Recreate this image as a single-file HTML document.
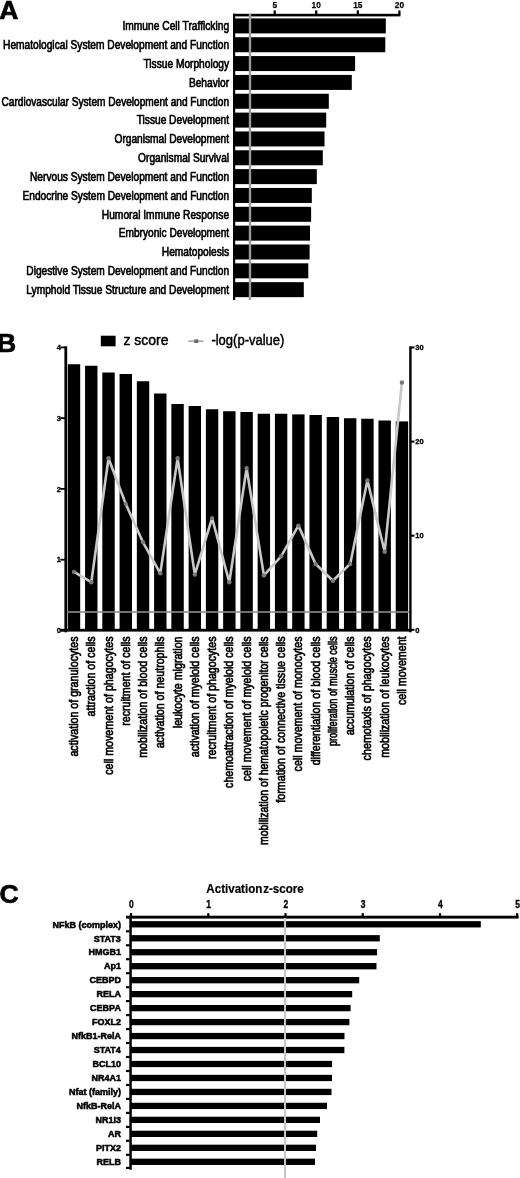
<!DOCTYPE html>
<html lang="en"><head><meta charset="utf-8"><title>Figure</title>
<style>html,body{margin:0;padding:0;background:#fff}body{width:520px;height:1178px;overflow:hidden}svg{display:block}text{font-family:'Liberation Sans', Arial, Helvetica, sans-serif;fill:#000}</style>
</head><body>
<svg width="520" height="1178" viewBox="0 0 520 1178">
<rect x="0" y="0" width="520" height="1178" fill="#fff"/>
<g id="panelA">
<text x="-0.7" y="18.7" font-size="26.5" font-weight="bold" stroke="#000" stroke-width="0.7">A</text>
<rect x="234.5" y="18.40" width="151.3" height="15.0" fill="#000"/>
<text x="229.1" y="30.20" font-size="12.0" text-anchor="end" textLength="106.6" lengthAdjust="spacingAndGlyphs" stroke="#000" stroke-width="0.65">Immune Cell Trafficking</text>
<rect x="234.5" y="37.24" width="150.8" height="15.0" fill="#000"/>
<text x="229.1" y="49.04" font-size="12.0" text-anchor="end" textLength="226.0" lengthAdjust="spacingAndGlyphs" stroke="#000" stroke-width="0.65">Hematological System Development and Function</text>
<rect x="234.5" y="56.08" width="120.6" height="15.0" fill="#000"/>
<text x="229.1" y="67.88" font-size="12.0" text-anchor="end" textLength="85.6" lengthAdjust="spacingAndGlyphs" stroke="#000" stroke-width="0.65">Tissue Morphology</text>
<rect x="234.5" y="74.92" width="117.3" height="15.0" fill="#000"/>
<text x="229.1" y="86.72" font-size="12.0" text-anchor="end" textLength="40.2" lengthAdjust="spacingAndGlyphs" stroke="#000" stroke-width="0.65">Behavior</text>
<rect x="234.5" y="93.76" width="94.3" height="15.0" fill="#000"/>
<text x="229.1" y="105.56" font-size="12.0" text-anchor="end" textLength="227.6" lengthAdjust="spacingAndGlyphs" stroke="#000" stroke-width="0.65">Cardiovascular System Development and Function</text>
<rect x="234.5" y="112.60" width="91.7" height="15.0" fill="#000"/>
<text x="229.1" y="124.40" font-size="12.0" text-anchor="end" textLength="92.4" lengthAdjust="spacingAndGlyphs" stroke="#000" stroke-width="0.65">Tissue Development</text>
<rect x="234.5" y="131.44" width="90.0" height="15.0" fill="#000"/>
<text x="229.1" y="143.24" font-size="12.0" text-anchor="end" textLength="114.6" lengthAdjust="spacingAndGlyphs" stroke="#000" stroke-width="0.65">Organismal Development</text>
<rect x="234.5" y="150.28" width="88.3" height="15.0" fill="#000"/>
<text x="229.1" y="162.08" font-size="12.0" text-anchor="end" textLength="91.0" lengthAdjust="spacingAndGlyphs" stroke="#000" stroke-width="0.65">Organismal Survival</text>
<rect x="234.5" y="169.12" width="82.3" height="15.0" fill="#000"/>
<text x="229.1" y="180.92" font-size="12.0" text-anchor="end" textLength="199.1" lengthAdjust="spacingAndGlyphs" stroke="#000" stroke-width="0.65">Nervous System Development and Function</text>
<rect x="234.5" y="187.96" width="77.3" height="15.0" fill="#000"/>
<text x="229.1" y="199.76" font-size="12.0" text-anchor="end" textLength="206.6" lengthAdjust="spacingAndGlyphs" stroke="#000" stroke-width="0.65">Endocrine System Development and Function</text>
<rect x="234.5" y="206.80" width="76.6" height="15.0" fill="#000"/>
<text x="229.1" y="218.60" font-size="12.0" text-anchor="end" textLength="127.3" lengthAdjust="spacingAndGlyphs" stroke="#000" stroke-width="0.65">Humoral Immune Response</text>
<rect x="234.5" y="225.64" width="75.5" height="15.0" fill="#000"/>
<text x="229.1" y="237.44" font-size="12.0" text-anchor="end" textLength="110.3" lengthAdjust="spacingAndGlyphs" stroke="#000" stroke-width="0.65">Embryonic Development</text>
<rect x="234.5" y="244.48" width="75.1" height="15.0" fill="#000"/>
<text x="229.1" y="256.28" font-size="12.0" text-anchor="end" textLength="67.3" lengthAdjust="spacingAndGlyphs" stroke="#000" stroke-width="0.65">Hematopoiesis</text>
<rect x="234.5" y="263.32" width="73.8" height="15.0" fill="#000"/>
<text x="229.1" y="275.12" font-size="12.0" text-anchor="end" textLength="202.8" lengthAdjust="spacingAndGlyphs" stroke="#000" stroke-width="0.65">Digestive System Development and Function</text>
<rect x="234.5" y="282.16" width="69.3" height="15.0" fill="#000"/>
<text x="229.1" y="293.96" font-size="12.0" text-anchor="end" textLength="202.8" lengthAdjust="spacingAndGlyphs" stroke="#000" stroke-width="0.65">Lymphoid Tissue Structure and Development</text>
<rect x="233" y="13.8" width="2.2" height="286.2" fill="#000"/>
<rect x="233" y="13.8" width="167.5" height="2.6" fill="#000"/>
<rect x="273.6" y="10.4" width="2.2" height="4" fill="#000"/>
<text x="274.7" y="8.3" font-size="9" font-weight="bold" text-anchor="middle" textLength="4.6" lengthAdjust="spacingAndGlyphs" stroke="#000" stroke-width="0.25">5</text>
<rect x="315.1" y="10.4" width="2.2" height="4" fill="#000"/>
<text x="316.2" y="8.3" font-size="9" font-weight="bold" text-anchor="middle" textLength="9.2" lengthAdjust="spacingAndGlyphs" stroke="#000" stroke-width="0.25">10</text>
<rect x="356.7" y="10.4" width="2.2" height="4" fill="#000"/>
<text x="357.8" y="8.3" font-size="9" font-weight="bold" text-anchor="middle" textLength="9.2" lengthAdjust="spacingAndGlyphs" stroke="#000" stroke-width="0.25">15</text>
<rect x="398.3" y="10.4" width="2.2" height="4" fill="#000"/>
<text x="399.4" y="8.3" font-size="9" font-weight="bold" text-anchor="middle" textLength="9.2" lengthAdjust="spacingAndGlyphs" stroke="#000" stroke-width="0.25">20</text>
<rect x="248.8" y="13.8" width="2.4" height="286.2" fill="#9a9a9a"/>
</g>
<g id="panelB">
<text x="-3" y="352.3" font-size="26.5" font-weight="bold" stroke="#000" stroke-width="0.7">B</text>
<rect x="100.8" y="335.7" width="14.8" height="10.6" fill="#000"/>
<text x="123.5" y="344.8" font-size="14" textLength="45" lengthAdjust="spacingAndGlyphs" stroke="#000" stroke-width="0.45">z score</text>
<line x1="188.2" y1="341.2" x2="203.6" y2="341.2" stroke="#b4b4b4" stroke-width="2"/>
<rect x="194.4" y="339.4" width="3.8" height="3.6" fill="#666"/>
<text x="211.4" y="344.8" font-size="14" textLength="73" lengthAdjust="spacingAndGlyphs" stroke="#000" stroke-width="0.45">-log(p-value)</text>
<rect x="67.80" y="364.25" width="12.4" height="266.25" fill="#000"/>
<rect x="85.06" y="365.75" width="12.4" height="264.75" fill="#000"/>
<rect x="102.32" y="372.50" width="12.4" height="258.00" fill="#000"/>
<rect x="119.58" y="374.00" width="12.4" height="256.50" fill="#000"/>
<rect x="136.84" y="381.25" width="12.4" height="249.25" fill="#000"/>
<rect x="154.10" y="393.50" width="12.4" height="237.00" fill="#000"/>
<rect x="171.36" y="404.00" width="12.4" height="226.50" fill="#000"/>
<rect x="188.62" y="406.00" width="12.4" height="224.50" fill="#000"/>
<rect x="205.88" y="409.25" width="12.4" height="221.25" fill="#000"/>
<rect x="223.14" y="411.25" width="12.4" height="219.25" fill="#000"/>
<rect x="240.40" y="412.00" width="12.4" height="218.50" fill="#000"/>
<rect x="257.66" y="413.75" width="12.4" height="216.75" fill="#000"/>
<rect x="274.92" y="413.75" width="12.4" height="216.75" fill="#000"/>
<rect x="292.18" y="414.40" width="12.4" height="216.10" fill="#000"/>
<rect x="309.44" y="415.00" width="12.4" height="215.50" fill="#000"/>
<rect x="326.70" y="417.00" width="12.4" height="213.50" fill="#000"/>
<rect x="343.96" y="418.25" width="12.4" height="212.25" fill="#000"/>
<rect x="361.22" y="418.75" width="12.4" height="211.75" fill="#000"/>
<rect x="378.48" y="420.50" width="12.4" height="210.00" fill="#000"/>
<rect x="395.74" y="421.40" width="12.4" height="209.10" fill="#000"/>
<rect x="66" y="611.2" width="344" height="1.6" fill="#8c8c8c"/>
<polyline points="74.0,571.9 91.3,582.2 108.5,458.3 125.8,504.1 143.0,542.3 160.3,573.3 177.6,458.3 194.8,574.6 212.1,518.1 229.3,582.2 246.6,468.3 263.9,575.4 281.1,556.3 298.4,525.6 315.6,563.9 332.9,580.8 350.2,563.9 367.4,480.4 384.7,551.7 401.9,382.5" fill="none" stroke="#c8c8c8" stroke-width="2.6" stroke-linejoin="round"/>
<circle cx="74.0" cy="571.9" r="2.2" fill="#7a7a7a"/>
<circle cx="91.3" cy="582.2" r="2.2" fill="#7a7a7a"/>
<circle cx="108.5" cy="458.3" r="2.2" fill="#7a7a7a"/>
<circle cx="125.8" cy="504.1" r="2.2" fill="#7a7a7a"/>
<circle cx="143.0" cy="542.3" r="2.2" fill="#7a7a7a"/>
<circle cx="160.3" cy="573.3" r="2.2" fill="#7a7a7a"/>
<circle cx="177.6" cy="458.3" r="2.2" fill="#7a7a7a"/>
<circle cx="194.8" cy="574.6" r="2.2" fill="#7a7a7a"/>
<circle cx="212.1" cy="518.1" r="2.2" fill="#7a7a7a"/>
<circle cx="229.3" cy="582.2" r="2.2" fill="#7a7a7a"/>
<circle cx="246.6" cy="468.3" r="2.2" fill="#7a7a7a"/>
<circle cx="263.9" cy="575.4" r="2.2" fill="#7a7a7a"/>
<circle cx="281.1" cy="556.3" r="2.2" fill="#7a7a7a"/>
<circle cx="298.4" cy="525.6" r="2.2" fill="#7a7a7a"/>
<circle cx="315.6" cy="563.9" r="2.2" fill="#7a7a7a"/>
<circle cx="332.9" cy="580.8" r="2.2" fill="#7a7a7a"/>
<circle cx="350.2" cy="563.9" r="2.2" fill="#7a7a7a"/>
<circle cx="367.4" cy="480.4" r="2.2" fill="#7a7a7a"/>
<circle cx="384.7" cy="551.7" r="2.2" fill="#7a7a7a"/>
<circle cx="401.9" cy="382.5" r="2.2" fill="#7a7a7a"/>
<rect x="64.4" y="346.3" width="2.8" height="286" fill="#000"/>
<rect x="60.3" y="628.8" width="351.2" height="2.8" fill="#000"/>
<rect x="409.2" y="346.3" width="2.4" height="286" fill="#000"/>
<rect x="60.4" y="629.5" width="5" height="1.8" fill="#000"/>
<text x="60.8" y="633.1" font-size="7.5" font-weight="bold" text-anchor="end" stroke="#000" stroke-width="0.3">0</text>
<rect x="60.4" y="558.8" width="5" height="1.8" fill="#000"/>
<text x="60.8" y="562.4" font-size="7.5" font-weight="bold" text-anchor="end" stroke="#000" stroke-width="0.3">1</text>
<rect x="60.4" y="488.0" width="5" height="1.8" fill="#000"/>
<text x="60.8" y="491.6" font-size="7.5" font-weight="bold" text-anchor="end" stroke="#000" stroke-width="0.3">2</text>
<rect x="60.4" y="417.2" width="5" height="1.8" fill="#000"/>
<text x="60.8" y="420.8" font-size="7.5" font-weight="bold" text-anchor="end" stroke="#000" stroke-width="0.3">3</text>
<rect x="60.4" y="346.5" width="5" height="1.8" fill="#000"/>
<text x="60.8" y="350.1" font-size="7.5" font-weight="bold" text-anchor="end" stroke="#000" stroke-width="0.3">4</text>
<rect x="411" y="628.8" width="3.5" height="2" fill="#000"/>
<text x="415.3" y="632.5" font-size="7.5" font-weight="bold" stroke="#000" stroke-width="0.3">0</text>
<rect x="411" y="534.7" width="3.5" height="2" fill="#000"/>
<text x="415.3" y="538.4" font-size="7.5" font-weight="bold" stroke="#000" stroke-width="0.3">10</text>
<rect x="411" y="440.6" width="3.5" height="2" fill="#000"/>
<text x="415.3" y="444.3" font-size="7.5" font-weight="bold" stroke="#000" stroke-width="0.3">20</text>
<rect x="411" y="346.5" width="3.5" height="2" fill="#000"/>
<text x="415.3" y="350.2" font-size="7.5" font-weight="bold" stroke="#000" stroke-width="0.3">30</text>
<text transform="translate(78.0,636.5) rotate(-90)" font-size="13.0" text-anchor="end" textLength="120.1" lengthAdjust="spacingAndGlyphs" stroke="#000" stroke-width="0.7">activation of granulocytes</text>
<text transform="translate(95.3,636.5) rotate(-90)" font-size="13.0" text-anchor="end" textLength="79.9" lengthAdjust="spacingAndGlyphs" stroke="#000" stroke-width="0.7">attraction of cells</text>
<text transform="translate(112.5,636.5) rotate(-90)" font-size="13.0" text-anchor="end" textLength="138.3" lengthAdjust="spacingAndGlyphs" stroke="#000" stroke-width="0.7">cell movement of phagocytes</text>
<text transform="translate(129.8,636.5) rotate(-90)" font-size="13.0" text-anchor="end" textLength="89.3" lengthAdjust="spacingAndGlyphs" stroke="#000" stroke-width="0.7">recruitment of cells</text>
<text transform="translate(147.0,636.5) rotate(-90)" font-size="13.0" text-anchor="end" textLength="121.3" lengthAdjust="spacingAndGlyphs" stroke="#000" stroke-width="0.7">mobilization of blood cells</text>
<text transform="translate(164.3,636.5) rotate(-90)" font-size="13.0" text-anchor="end" textLength="111.8" lengthAdjust="spacingAndGlyphs" stroke="#000" stroke-width="0.7">activation of neutrophils</text>
<text transform="translate(181.6,636.5) rotate(-90)" font-size="13.0" text-anchor="end" textLength="91.7" lengthAdjust="spacingAndGlyphs" stroke="#000" stroke-width="0.7">leukocyte migration</text>
<text transform="translate(198.8,636.5) rotate(-90)" font-size="13.0" text-anchor="end" textLength="120.7" lengthAdjust="spacingAndGlyphs" stroke="#000" stroke-width="0.7">activation of myeloid cells</text>
<text transform="translate(216.1,636.5) rotate(-90)" font-size="13.0" text-anchor="end" textLength="122.5" lengthAdjust="spacingAndGlyphs" stroke="#000" stroke-width="0.7">recruitment of phagocytes</text>
<text transform="translate(233.3,636.5) rotate(-90)" font-size="13.0" text-anchor="end" textLength="151.4" lengthAdjust="spacingAndGlyphs" stroke="#000" stroke-width="0.7">chemoattraction of myeloid cells</text>
<text transform="translate(250.6,636.5) rotate(-90)" font-size="13.0" text-anchor="end" textLength="144.8" lengthAdjust="spacingAndGlyphs" stroke="#000" stroke-width="0.7">cell movement of myeloid cells</text>
<text transform="translate(267.9,636.5) rotate(-90)" font-size="13.0" text-anchor="end" textLength="208.5" lengthAdjust="spacingAndGlyphs" stroke="#000" stroke-width="0.7">mobilization of hematopoietic progenitor cells</text>
<text transform="translate(285.1,636.5) rotate(-90)" font-size="13.0" text-anchor="end" textLength="166.2" lengthAdjust="spacingAndGlyphs" stroke="#000" stroke-width="0.7">formation of connective tissue cells</text>
<text transform="translate(302.4,636.5) rotate(-90)" font-size="13.0" text-anchor="end" textLength="134.9" lengthAdjust="spacingAndGlyphs" stroke="#000" stroke-width="0.7">cell movement of monocytes</text>
<text transform="translate(319.6,636.5) rotate(-90)" font-size="13.0" text-anchor="end" textLength="128.8" lengthAdjust="spacingAndGlyphs" stroke="#000" stroke-width="0.7">differentiation of blood cells</text>
<text transform="translate(336.9,636.5) rotate(-90)" font-size="13.0" text-anchor="end" textLength="109.6" lengthAdjust="spacingAndGlyphs" stroke="#000" stroke-width="0.7">proliferation of muscle cells</text>
<text transform="translate(354.2,636.5) rotate(-90)" font-size="13.0" text-anchor="end" textLength="98.8" lengthAdjust="spacingAndGlyphs" stroke="#000" stroke-width="0.7">accumulation of cells</text>
<text transform="translate(371.4,636.5) rotate(-90)" font-size="13.0" text-anchor="end" textLength="123.9" lengthAdjust="spacingAndGlyphs" stroke="#000" stroke-width="0.7">chemotaxis of phagocytes</text>
<text transform="translate(388.7,636.5) rotate(-90)" font-size="13.0" text-anchor="end" textLength="121.3" lengthAdjust="spacingAndGlyphs" stroke="#000" stroke-width="0.7">mobilization of leukocytes</text>
<text transform="translate(405.9,636.5) rotate(-90)" font-size="13.0" text-anchor="end" textLength="68.6" lengthAdjust="spacingAndGlyphs" stroke="#000" stroke-width="0.7">cell movement</text>
</g>
<g id="panelC">
<text x="-0.5" y="903" font-size="26.5" font-weight="bold" stroke="#000" stroke-width="0.7">C</text>
<text x="206.3" y="893.3" font-size="12.3" font-weight="bold" textLength="97.5" lengthAdjust="spacingAndGlyphs" stroke="#000" stroke-width="0.2" style="word-spacing:-2.6px">Activation z-score</text>
<rect x="131.0" y="921.15" width="349.8" height="6.3" fill="#000"/>
<text x="120.9" y="927.55" font-size="9.9" font-weight="bold" text-anchor="end" textLength="68.5" lengthAdjust="spacingAndGlyphs" stroke="#000" stroke-width="0.55">NFkB (complex)</text>
<rect x="131.0" y="935.12" width="248.8" height="6.3" fill="#000"/>
<text x="120.9" y="941.52" font-size="9.9" font-weight="bold" text-anchor="end" textLength="27.2" lengthAdjust="spacingAndGlyphs" stroke="#000" stroke-width="0.55">STAT3</text>
<rect x="131.0" y="949.09" width="246.1" height="6.3" fill="#000"/>
<text x="120.9" y="955.49" font-size="9.9" font-weight="bold" text-anchor="end" textLength="32.5" lengthAdjust="spacingAndGlyphs" stroke="#000" stroke-width="0.55">HMGB1</text>
<rect x="131.0" y="963.06" width="245.5" height="6.3" fill="#000"/>
<text x="120.9" y="969.46" font-size="9.9" font-weight="bold" text-anchor="end" textLength="17.0" lengthAdjust="spacingAndGlyphs" stroke="#000" stroke-width="0.55">Ap1</text>
<rect x="131.0" y="977.03" width="228.2" height="6.3" fill="#000"/>
<text x="120.9" y="983.43" font-size="9.9" font-weight="bold" text-anchor="end" textLength="31.5" lengthAdjust="spacingAndGlyphs" stroke="#000" stroke-width="0.55">CEBPD</text>
<rect x="131.0" y="991.00" width="221.2" height="6.3" fill="#000"/>
<text x="120.9" y="997.40" font-size="9.9" font-weight="bold" text-anchor="end" textLength="24.5" lengthAdjust="spacingAndGlyphs" stroke="#000" stroke-width="0.55">RELA</text>
<rect x="131.0" y="1004.97" width="219.6" height="6.3" fill="#000"/>
<text x="120.9" y="1011.37" font-size="9.9" font-weight="bold" text-anchor="end" textLength="30.8" lengthAdjust="spacingAndGlyphs" stroke="#000" stroke-width="0.55">CEBPA</text>
<rect x="131.0" y="1018.94" width="218.4" height="6.3" fill="#000"/>
<text x="120.9" y="1025.34" font-size="9.9" font-weight="bold" text-anchor="end" textLength="29.0" lengthAdjust="spacingAndGlyphs" stroke="#000" stroke-width="0.55">FOXL2</text>
<rect x="131.0" y="1032.91" width="213.5" height="6.3" fill="#000"/>
<text x="120.9" y="1039.31" font-size="9.9" font-weight="bold" text-anchor="end" textLength="49.5" lengthAdjust="spacingAndGlyphs" stroke="#000" stroke-width="0.55">NfkB1-RelA</text>
<rect x="131.0" y="1046.88" width="213.4" height="6.3" fill="#000"/>
<text x="120.9" y="1053.28" font-size="9.9" font-weight="bold" text-anchor="end" textLength="27.2" lengthAdjust="spacingAndGlyphs" stroke="#000" stroke-width="0.55">STAT4</text>
<rect x="131.0" y="1060.85" width="201.1" height="6.3" fill="#000"/>
<text x="120.9" y="1067.25" font-size="9.9" font-weight="bold" text-anchor="end" textLength="28.5" lengthAdjust="spacingAndGlyphs" stroke="#000" stroke-width="0.55">BCL10</text>
<rect x="131.0" y="1074.82" width="201.0" height="6.3" fill="#000"/>
<text x="120.9" y="1081.22" font-size="9.9" font-weight="bold" text-anchor="end" textLength="29.5" lengthAdjust="spacingAndGlyphs" stroke="#000" stroke-width="0.55">NR4A1</text>
<rect x="131.0" y="1088.79" width="200.5" height="6.3" fill="#000"/>
<text x="120.9" y="1095.19" font-size="9.9" font-weight="bold" text-anchor="end" textLength="52.0" lengthAdjust="spacingAndGlyphs" stroke="#000" stroke-width="0.55">Nfat (family)</text>
<rect x="131.0" y="1102.76" width="196.0" height="6.3" fill="#000"/>
<text x="120.9" y="1109.16" font-size="9.9" font-weight="bold" text-anchor="end" textLength="44.5" lengthAdjust="spacingAndGlyphs" stroke="#000" stroke-width="0.55">NfkB-RelA</text>
<rect x="131.0" y="1116.73" width="189.0" height="6.3" fill="#000"/>
<text x="120.9" y="1123.13" font-size="9.9" font-weight="bold" text-anchor="end" textLength="25.5" lengthAdjust="spacingAndGlyphs" stroke="#000" stroke-width="0.55">NR1I3</text>
<rect x="131.0" y="1130.70" width="186.2" height="6.3" fill="#000"/>
<text x="120.9" y="1137.10" font-size="9.9" font-weight="bold" text-anchor="end" textLength="13.0" lengthAdjust="spacingAndGlyphs" stroke="#000" stroke-width="0.55">AR</text>
<rect x="131.0" y="1144.67" width="185.0" height="6.3" fill="#000"/>
<text x="120.9" y="1151.07" font-size="9.9" font-weight="bold" text-anchor="end" textLength="25.0" lengthAdjust="spacingAndGlyphs" stroke="#000" stroke-width="0.55">PITX2</text>
<rect x="131.0" y="1158.64" width="184.0" height="6.3" fill="#000"/>
<text x="120.9" y="1165.04" font-size="9.9" font-weight="bold" text-anchor="end" textLength="24.5" lengthAdjust="spacingAndGlyphs" stroke="#000" stroke-width="0.55">RELB</text>
<rect x="129.3" y="915.7" width="2.5" height="254.0" fill="#000"/>
<rect x="126" y="915.7" width="392.6" height="2.9" fill="#000"/>
<rect x="129.9" y="913.1" width="2.2" height="3" fill="#000"/>
<text x="131.4" y="907.6" font-size="10" font-weight="bold" text-anchor="middle" textLength="4.7" lengthAdjust="spacingAndGlyphs" stroke="#000" stroke-width="0.35">0</text>
<rect x="207.2" y="913.1" width="2.2" height="3" fill="#000"/>
<text x="208.7" y="907.6" font-size="10" font-weight="bold" text-anchor="middle" textLength="4.7" lengthAdjust="spacingAndGlyphs" stroke="#000" stroke-width="0.35">1</text>
<rect x="284.4" y="913.1" width="2.2" height="3" fill="#000"/>
<text x="285.9" y="907.6" font-size="10" font-weight="bold" text-anchor="middle" textLength="4.7" lengthAdjust="spacingAndGlyphs" stroke="#000" stroke-width="0.35">2</text>
<rect x="361.6" y="913.1" width="2.2" height="3" fill="#000"/>
<text x="363.1" y="907.6" font-size="10" font-weight="bold" text-anchor="middle" textLength="4.7" lengthAdjust="spacingAndGlyphs" stroke="#000" stroke-width="0.35">3</text>
<rect x="438.9" y="913.1" width="2.2" height="3" fill="#000"/>
<text x="440.4" y="907.6" font-size="10" font-weight="bold" text-anchor="middle" textLength="4.7" lengthAdjust="spacingAndGlyphs" stroke="#000" stroke-width="0.35">4</text>
<rect x="516.1" y="913.1" width="2.2" height="3" fill="#000"/>
<text x="517.6" y="907.6" font-size="10" font-weight="bold" text-anchor="middle" textLength="4.7" lengthAdjust="spacingAndGlyphs" stroke="#000" stroke-width="0.35">5</text>
<rect x="126" y="930.2" width="3.6" height="2.2" fill="#000"/>
<rect x="126" y="944.2" width="3.6" height="2.2" fill="#000"/>
<rect x="126" y="958.1" width="3.6" height="2.2" fill="#000"/>
<rect x="126" y="972.1" width="3.6" height="2.2" fill="#000"/>
<rect x="126" y="986.1" width="3.6" height="2.2" fill="#000"/>
<rect x="126" y="1000.0" width="3.6" height="2.2" fill="#000"/>
<rect x="126" y="1014.0" width="3.6" height="2.2" fill="#000"/>
<rect x="126" y="1028.0" width="3.6" height="2.2" fill="#000"/>
<rect x="126" y="1041.9" width="3.6" height="2.2" fill="#000"/>
<rect x="126" y="1055.9" width="3.6" height="2.2" fill="#000"/>
<rect x="126" y="1069.9" width="3.6" height="2.2" fill="#000"/>
<rect x="126" y="1083.9" width="3.6" height="2.2" fill="#000"/>
<rect x="126" y="1097.8" width="3.6" height="2.2" fill="#000"/>
<rect x="126" y="1111.8" width="3.6" height="2.2" fill="#000"/>
<rect x="126" y="1125.8" width="3.6" height="2.2" fill="#000"/>
<rect x="126" y="1139.7" width="3.6" height="2.2" fill="#000"/>
<rect x="126" y="1153.7" width="3.6" height="2.2" fill="#000"/>
<rect x="126" y="1166.8" width="3.6" height="2.2" fill="#000"/>
<rect x="284" y="918" width="2" height="260" fill="#c6c6c6"/>
</g>
</svg></body></html>
